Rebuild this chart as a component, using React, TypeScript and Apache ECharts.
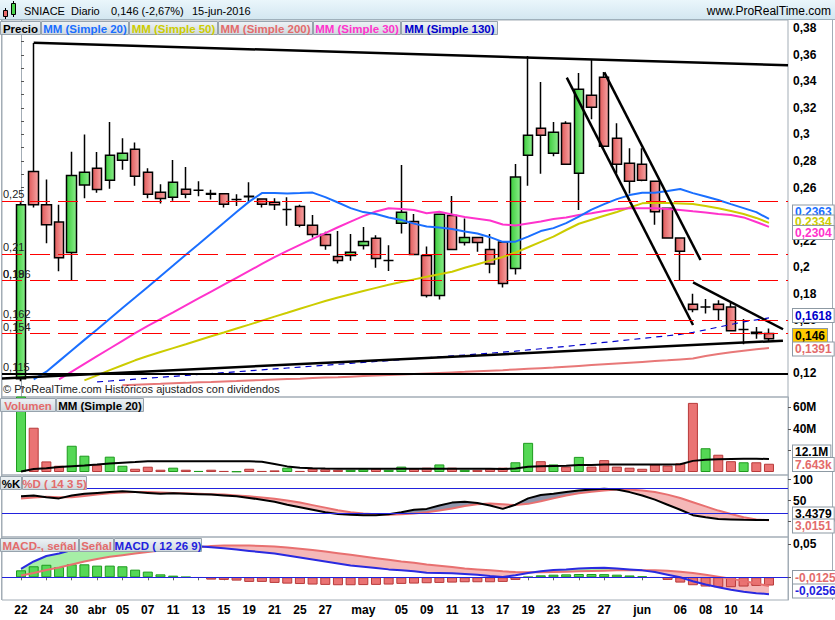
import React, { useEffect, useRef } from "react";
import * as echarts from "echarts";

const FONT = '"Liberation Sans", Arial, Helvetica, sans-serif';

const dates = [
  "2016-03-22","2016-03-23","2016-03-24","2016-03-29","2016-03-30","2016-03-31",
  "2016-04-01","2016-04-04","2016-04-05","2016-04-06","2016-04-07","2016-04-08","2016-04-11","2016-04-12","2016-04-13","2016-04-14","2016-04-15","2016-04-18","2016-04-19","2016-04-20","2016-04-21","2016-04-22","2016-04-25","2016-04-26","2016-04-27","2016-04-28","2016-04-29",
  "2016-05-02","2016-05-03","2016-05-04","2016-05-05","2016-05-06","2016-05-09","2016-05-10","2016-05-11","2016-05-12","2016-05-13","2016-05-16","2016-05-17","2016-05-18","2016-05-19","2016-05-20","2016-05-23","2016-05-24","2016-05-25","2016-05-26","2016-05-27","2016-05-30","2016-05-31",
  "2016-06-01","2016-06-02","2016-06-03","2016-06-06","2016-06-07","2016-06-08","2016-06-09","2016-06-10","2016-06-13","2016-06-14","2016-06-15",
];

const shownDates = [
  "2016-03-22","2016-03-24","2016-03-30","2016-04-01","2016-04-05","2016-04-07","2016-04-11","2016-04-13","2016-04-15","2016-04-19","2016-04-21","2016-04-25","2016-04-27",
  "2016-05-02","2016-05-05","2016-05-09","2016-05-11","2016-05-13","2016-05-17","2016-05-19","2016-05-23","2016-05-25","2016-05-27",
  "2016-06-01","2016-06-06","2016-06-08","2016-06-10","2016-06-14",
];
const monthNames: Record<string, string> = { "03": "mar", "04": "abr", "05": "may", "06": "jun" };

const opens = [0.116,0.272,0.247,0.234,0.211,0.262,0.2745,0.2654,0.2805,0.2888,0.2715,0.2564,0.2526,0.2587,0.2579,0.2556,0.2553,0.251,0.2535,0.2513,0.249,0.2435,0.2458,0.2315,0.2247,0.2081,0.2088,0.2164,0.2217,0.2051,0.233,0.2345,0.2088,0.1786,0.239,0.2186,0.2224,0.2134,0.2189,0.199,0.2843,0.3047,0.2858,0.3085,0.2707,0.3296,0.3432,0.2971,0.2783,0.2775,0.2647,0.2443,0.222,0.172,0.170,0.172,0.170,0.153,0.151,0.150];
const closes = [0.247,0.247,0.232,0.207,0.269,0.2715,0.2586,0.2843,0.2858,0.2685,0.2549,0.2518,0.2639,0.2549,0.2579,0.2550,0.2475,0.251,0.2530,0.2475,0.247,0.2435,0.2315,0.2247,0.2164,0.2051,0.2113,0.2194,0.2066,0.2051,0.2413,0.2096,0.1786,0.2398,0.2134,0.2224,0.2186,0.2023,0.1877,0.2679,0.2994,0.2994,0.3017,0.2775,0.3341,0.3205,0.2911,0.2775,0.2647,0.2654,0.2418,0.2219,0.212,0.168,0.170,0.168,0.152,0.153,0.150,0.146];
const lows = [0.114,0.245,0.218,0.197,0.190,0.252,0.256,0.259,0.2734,0.2613,0.252,0.248,0.25,0.252,0.2534,0.251,0.245,0.246,0.249,0.245,0.243,0.2312,0.230,0.2224,0.2131,0.2028,0.2048,0.2134,0.1995,0.1972,0.2254,0.2096,0.1771,0.1756,0.2134,0.2164,0.2116,0.1955,0.1847,0.1945,0.2614,0.2704,0.2835,0.2775,0.243,0.3115,0.2911,0.2707,0.2556,0.2647,0.232,0.2219,0.19,0.166,0.165,0.160,0.152,0.142,0.146,0.1436];
const highs = [0.249,0.369,0.266,0.247,0.287,0.300,0.2868,0.3094,0.2971,0.294,0.2745,0.2624,0.2808,0.2755,0.2647,0.2583,0.2553,0.255,0.2639,0.2513,0.252,0.2526,0.247,0.2393,0.2267,0.2272,0.2249,0.2302,0.224,0.2166,0.277,0.24,0.2156,0.2398,0.2536,0.2367,0.2224,0.2249,0.219,0.2777,0.3592,0.3396,0.3094,0.31,0.3464,0.3562,0.347,0.3085,0.2896,0.2896,0.2647,0.2443,0.222,0.18,0.176,0.175,0.173,0.161,0.155,0.1537];

const ma20 = [null,0.1154,0.1212,0.1292,0.1372,0.1452,0.1531,0.1612,0.1692,0.1771,0.1851,0.1932,0.2012,0.2093,0.2173,0.2254,0.2334,0.2415,0.2494,0.2558,0.2558,0.2556,0.2558,0.2562,0.2528,0.2487,0.2445,0.2415,0.24,0.2374,0.2355,0.2328,0.2306,0.2298,0.2287,0.2268,0.2253,0.2226,0.2191,0.2192,0.223,0.2272,0.2294,0.2332,0.2381,0.2434,0.2475,0.2513,0.2543,0.2561,0.2561,0.2574,0.2589,0.2558,0.2532,0.2506,0.2475,0.2445,0.2415,0.2363];
const ma50 = [null,null,null,null,null,0.1147,0.1185,0.1224,0.1261,0.1298,0.133,0.1361,0.139,0.1419,0.1449,0.1479,0.1508,0.1538,0.1567,0.1597,0.1627,0.1656,0.1686,0.1716,0.1745,0.1772,0.1796,0.182,0.1844,0.1867,0.1888,0.1908,0.1928,0.1947,0.1966,0.1995,0.2022,0.2049,0.2077,0.211,0.215,0.219,0.223,0.228,0.2327,0.2357,0.2387,0.2416,0.245,0.2481,0.2485,0.2483,0.248,0.2476,0.2461,0.2444,0.2423,0.2401,0.2371,0.2334];
const ma200 = [null,null,null,null,null,null,null,null,0.1110,0.1114,0.1118,0.1121,0.1125,0.1128,0.1132,0.1135,0.1139,0.1142,0.1146,0.1149,0.1153,0.1157,0.1160,0.1164,0.1168,0.1171,0.1175,0.1179,0.1183,0.1187,0.1191,0.1195,0.1199,0.1203,0.1207,0.1211,0.1216,0.1220,0.1224,0.1229,0.1234,0.1239,0.1244,0.1250,0.1256,0.1262,0.1268,0.1274,0.1280,0.1286,0.1292,0.1298,0.1305,0.1312,0.1330,0.1345,0.1358,0.1370,0.1381,0.1391];
const ma30 = [null,null,null,0.1155,0.1213,0.1271,0.1329,0.1387,0.1445,0.1503,0.1557,0.1609,0.166,0.1712,0.1764,0.1816,0.1868,0.192,0.1972,0.2024,0.2075,0.2123,0.2168,0.2213,0.2257,0.2301,0.2343,0.2385,0.2419,0.2444,0.2438,0.2431,0.2406,0.2418,0.2397,0.2378,0.2365,0.2352,0.2322,0.2314,0.2329,0.2344,0.2363,0.2374,0.2393,0.2406,0.2423,0.2438,0.2444,0.2444,0.2444,0.2438,0.2431,0.2421,0.2412,0.24,0.2393,0.2375,0.234,0.2304];
const ma130 = [null,null,null,null,null,null,0.1135,0.1142,0.1149,0.1156,0.1163,0.117,0.1177,0.1184,0.1191,0.1198,0.1205,0.1212,0.1219,0.1226,0.1233,0.124,0.1247,0.1254,0.1261,0.1268,0.1275,0.1282,0.1289,0.1296,0.1303,0.131,0.1317,0.1324,0.1331,0.1338,0.1345,0.1352,0.1359,0.1367,0.1376,0.1385,0.1394,0.1403,0.1413,0.1423,0.1433,0.1443,0.1453,0.1463,0.1473,0.1483,0.1494,0.1508,0.1528,0.1548,0.1568,0.1588,0.1603,0.1618];

const levels = [0.25, 0.21, 0.19, 0.186, 0.162, 0.154];
const baseLevel = 0.115;
const priceTicks = [0.12,0.14,0.16,0.18,0.2,0.22,0.24,0.26,0.28,0.3,0.32,0.34,0.36,0.38];
const priceMinorTicks = [0.11,0.13,0.15,0.17,0.19,0.21,0.23,0.25,0.27,0.29,0.31,0.33,0.35,0.37];

// trendlines: [index, price] pairs
const trendLines = [
  [[1, 0.3691], [60.5, 0.3521]],
  [[-1.5, 0.1161], [60.1, 0.1446]],
  [[43.05, 0.3428], [53.01, 0.1564]],
  [[46.01, 0.3468], [53.6, 0.2054]],
  [[53.01, 0.1885], [60.11, 0.1532]],
];

const volumes = [90e6,41e6,9.8e6,5.8e6,24.3e6,15.1e6,6.4e6,14.2e6,5.8e6,3e6,4.9e6,2.1e6,4e6,2.1e6,1e6,2.1e6,1e6,0.6e6,3e6,1e6,1.5e6,4e6,1e6,3e6,2.5e6,2e6,2e6,2.5e6,3e6,2e6,5e6,3e6,4e6,7e6,4e6,2e6,2e6,3e6,4e6,9e6,27e6,10e6,7e6,5e6,14e6,5e6,11e6,5e6,4e6,3e6,7e6,6e6,8e6,64e6,22e6,16e6,10e6,9e6,9e6,7.643e6];
const volMA20 = [0.4e6,2.7e6,3.5e6,4.6e6,5.4e6,6.1e6,6.9e6,7.8e6,8.6e6,9.2e6,10e6,10e6,10e6,10e6,10e6,10e6,10e6,10e6,10e6,9.4e6,7.5e6,5.2e6,4e6,3.5e6,3.2e6,3e6,3e6,3e6,3e6,3e6,3e6,3e6,3e6,3e6,3e6,3e6,2.9e6,2.9e6,2.8e6,3.3e6,4.8e6,5.3e6,5.6e6,5.8e6,6.4e6,6.5e6,7e6,7e6,7e6,6.9e6,7e6,6.9e6,7.2e6,10.3e6,11.3e6,11.9e6,12.1e6,12.3e6,12.2e6,12.1e6];

const stochK = [60,62,58,55,62,66,68,70,72,70,68,66,67,66,65,64,62,60,56,52,47,40,34,28,22,18,16,15,15,17,22,28,30,38,45,47,44,38,30,40,55,63,66,70,74,76,78,76,70,62,52,40,28,15,10,6,5,4,3.8,3.4379];
const stochD = [55,57,59,58,58,61,64,67,69,70,70,69,68,67,66,65,64,62,60,57,54,50,45,39,33,27,22,19,17,16,17,19,22,26,31,37,41,43,41,39,42,48,55,62,67,71,74,76,76,74,70,64,56,46,36,26,18,10,5,3.0151];

const macdLine = [0.0126,0.024,0.0323,0.036,0.0414,0.0444,0.0474,0.048,0.049,0.0495,0.0495,0.049,0.0485,0.048,0.047,0.0455,0.044,0.042,0.04,0.038,0.036,0.033,0.03,0.027,0.024,0.021,0.018,0.016,0.014,0.012,0.0105,0.009,0.007,0.0065,0.006,0.005,0.004,0.002,0.0005,0.003,0.0065,0.009,0.011,0.012,0.0135,0.014,0.0145,0.0135,0.012,0.0105,0.008,0.004,0,-0.006,-0.011,-0.015,-0.019,-0.022,-0.024,-0.0256];
const macdSignal = [0.0027,0.0065,0.011,0.0148,0.0194,0.024,0.0277,0.031,0.0335,0.036,0.0385,0.0405,0.0425,0.044,0.0455,0.0475,0.048,0.0482,0.048,0.0475,0.0465,0.045,0.0432,0.0412,0.039,0.0365,0.034,0.0315,0.029,0.0265,0.024,0.022,0.0195,0.0175,0.0155,0.0135,0.012,0.0105,0.009,0.008,0.0075,0.0075,0.008,0.0085,0.009,0.0095,0.01,0.0105,0.0107,0.0107,0.0105,0.0098,0.0085,0.0065,0.004,0.001,-0.002,-0.0055,-0.0095,-0.0131];
const macdHist = [0.0106,0.0167,0.019,0.0156,0.0197,0.0197,0.0177,0.0177,0.0167,0.0116,0.0086,0.0045,0.0025,0.0005,-0.0006,-0.0035,-0.004,-0.005,-0.007,-0.007,-0.0085,-0.0096,-0.0102,-0.011,-0.0115,-0.012,-0.012,-0.0118,-0.0115,-0.011,-0.01,-0.0095,-0.009,-0.0085,-0.008,-0.0075,-0.0075,-0.0075,-0.007,-0.004,0.0005,0.003,0.004,0.0045,0.005,0.005,0.0048,0.004,0.0028,0.0015,-0.0005,-0.004,-0.008,-0.012,-0.014,-0.015,-0.015,-0.014,-0.013,-0.0125];

const C = {
  blue: "#1a6fff",
  yellow: "#cccc00",
  salmon: "#e36b6b",
  magenta: "#ff33cc",
  navy: "#0000cc",
  frame: "#a3adb6",
  red: "#ff0000",
};

const comma = (v: number) => String(v).replace(".", ",");

function pad<T>(arr: T[], empty: any = null): any[] {
  return [empty, ...arr, empty];
}

function buildOption() {
  const cats = pad(dates, "");
  const grids = [
    { left: 2, top: 20, width: 786, height: 377 },
    { left: 2, top: 397, width: 786, height: 78 },
    { left: 2, top: 475, width: 786, height: 62 },
    { left: 2, top: 537, width: 786, height: 63 },
  ].map((g) => ({ ...g, show: true, borderColor: C.frame, borderWidth: 1, backgroundColor: "transparent" }));

  const labelFont = { fontFamily: FONT, fontSize: 12, fontWeight: "bold" as const, color: "#000" };

  const xAxes: any[] = [0, 1, 2, 3].map((gi) => ({
    type: "category",
    gridIndex: gi,
    data: cats,
    boundaryGap: true,
    show: gi === 3,
    axisLine: { show: false },
    axisTick: {
      show: gi === 3,
      length: 3,
      alignWithLabel: true,
      interval: (_i: number, v: string) => shownDates.includes(v),
      lineStyle: { color: "#666" },
    },
    axisLabel: {
      show: gi === 3,
      margin: 4,
      ...labelFont,
      interval: (_i: number, v: string) => shownDates.includes(v),
      formatter: (v: string) => {
        const idx = dates.indexOf(v);
        if (idx < 0) return "";
        const m = v.slice(5, 7);
        if (idx > 0 && dates[idx - 1].slice(5, 7) !== m) return monthNames[m];
        return v.slice(8, 10);
      },
    },
    splitLine: { show: false },
  }));
  xAxes.push({ type: "value", gridIndex: 0, min: -1.5, max: 60.5, show: false });

  const yBase = (gi: number, min: number, max: number, ticks: number[], fmt: (v: number) => string, minor: number[] = []) => ({
    type: "value",
    gridIndex: gi,
    position: "right",
    min,
    max,
    axisLine: { show: true, lineStyle: { color: C.frame } },
    axisTick: { show: true, length: 3, customValues: [...ticks, ...minor], lineStyle: { color: "#555" } },
    axisLabel: { show: true, margin: 5, customValues: ticks, formatter: fmt, ...labelFont },
    splitLine: { show: false },
  });

  const yAxes = [
    yBase(0, 0.38 - (397 - 28.3) / 1327, 0.38 + (28.3 - 20) / 1327, priceTicks, comma, priceMinorTicks),
    yBase(1, ((472 - 475) / 21.6) * 20e6, ((472 - 397) / 21.6) * 20e6, [20e6, 40e6, 60e6], (v) => v / 1e6 + "M"),
    yBase(2, -(537 - 521.5) / 0.42, 100 + (479.5 - 475) / 0.42, [0, 50, 100], (v) => String(v)),
    yBase(3, (577.3 - 600) / 660, (577.3 - 537) / 660, [0, 0.05], comma),
  ];

  const greenGrad = new echarts.graphic.LinearGradient(0, 0, 1, 0, [
    { offset: 0, color: "#3ccc3c" },
    { offset: 1, color: "#8cee8c" },
  ]);
  const redGrad = new echarts.graphic.LinearGradient(0, 0, 1, 0, [
    { offset: 0, color: "#e05a5a" },
    { offset: 1, color: "#f7a5a5" },
  ]);

  const candleData = pad(
    dates.map((_, i) => [opens[i], closes[i], lows[i], highs[i]]),
    "-"
  );

  const levelLines: any[] = levels.map((v) => ({
    yAxis: v,
    lineStyle: { color: C.red, width: 1.2, type: [20, 8] },
    label: {
      show: true,
      position: "insideStartTop",
      distance: [1, 1],
      formatter: () => comma(v),
      fontFamily: FONT,
      fontSize: 11,
      color: "#222",
    },
  }));
  levelLines.push({
    yAxis: baseLevel,
    lineStyle: { color: "#000", width: 2.2, type: "solid" },
    label: {
      show: true,
      position: "insideStartTop",
      distance: [1, 1],
      formatter: () => comma(baseLevel),
      fontFamily: FONT,
      fontSize: 11,
      color: "#222",
    },
  });

  const maLine = (name: string, data: (number | null)[], color: string, extra: any = {}) => ({
    name,
    type: "line",
    xAxisIndex: 0,
    yAxisIndex: 0,
    data: pad(data),
    symbol: "none",
    connectNulls: false,
    lineStyle: { color, width: 2, ...extra },
    z: 3,
  });

  const fillBetween = (gi: number, a: number[], b: number[], upColor: string, downColor: string, key: string) => {
    const lo = a.map((v, i) => Math.min(v, b[i]));
    const up = a.map((v, i) => Math.max(v - b[i], 0));
    const dn = a.map((v, i) => Math.max(b[i] - v, 0));
    const common = { type: "line", xAxisIndex: gi, yAxisIndex: gi, symbol: "none", stackStrategy: "all", silent: true, z: 1 };
    return [
      { ...common, stack: key + "u", data: pad(lo), lineStyle: { width: 0, opacity: 0 } },
      { ...common, stack: key + "u", data: pad(up), lineStyle: { width: 0, opacity: 0 }, areaStyle: { color: upColor, opacity: 1 } },
      { ...common, stack: key + "d", data: pad(lo), lineStyle: { width: 0, opacity: 0 } },
      { ...common, stack: key + "d", data: pad(dn), lineStyle: { width: 0, opacity: 0 }, areaStyle: { color: downColor, opacity: 1 } },
    ];
  };

  const volData = pad(
    volumes.map((v, i) => {
      const up = closes[i] >= opens[i];
      return {
        value: v,
        itemStyle: {
          color: up ? "#55d855" : "#ea7373",
          borderColor: up ? "#1e9a1e" : "#b83a3a",
          borderWidth: 1,
        },
      };
    })
  );

  const histData = pad(
    macdHist.map((v) => ({
      value: v,
      itemStyle: {
        color: v >= 0 ? "#55d855" : "#ea7373",
        borderColor: v >= 0 ? "#1e9a1e" : "#b83a3a",
        borderWidth: 1,
      },
    }))
  );

  const series: any[] = [
    {
      type: "candlestick",
      xAxisIndex: 0,
      yAxisIndex: 0,
      data: candleData,
      barWidth: 10,
      itemStyle: {
        color: greenGrad,
        color0: redGrad,
        borderColor: "#000",
        borderColor0: "#000",
        borderWidth: 1.5,
      },
      markLine: { symbol: "none", silent: true, animation: false, data: levelLines },
      z: 2,
    },
    maLine("MM200", ma200, "#e87878"),
    maLine("MM130", ma130, C.navy, { type: [6, 5], width: 1.2 }),
    maLine("MM50", ma50, C.yellow),
    maLine("MM30", ma30, C.magenta),
    maLine("MM20", ma20, C.blue),
    ...trendLines.map((seg) => ({
      type: "line",
      xAxisIndex: 4,
      yAxisIndex: 0,
      data: seg,
      symbol: "none",
      lineStyle: { color: "#000", width: 2.5 },
      z: 4,
    })),
    {
      type: "bar",
      xAxisIndex: 1,
      yAxisIndex: 1,
      data: volData,
      barWidth: 10,
      z: 2,
    },
    {
      type: "line",
      xAxisIndex: 1,
      yAxisIndex: 1,
      data: pad(volMA20),
      symbol: "none",
      lineStyle: { color: "#000", width: 2 },
      z: 3,
    },
    ...fillBetween(2, stochK, stochD, "#8e95ab", "#f5b8b8", "st"),
    {
      type: "line",
      xAxisIndex: 2,
      yAxisIndex: 2,
      data: pad(stochD),
      symbol: "none",
      lineStyle: { color: "#e87070", width: 2 },
      markLine: {
        symbol: "none",
        silent: true,
        label: { show: false },
        lineStyle: { color: "#2222dd", width: 1, type: "solid" },
        data: [{ yAxis: 80 }, { yAxis: 20 }],
      },
      z: 3,
    },
    {
      type: "line",
      xAxisIndex: 2,
      yAxisIndex: 2,
      data: pad(stochK),
      symbol: "none",
      lineStyle: { color: "#000", width: 2 },
      z: 3,
    },
    {
      type: "bar",
      xAxisIndex: 3,
      yAxisIndex: 3,
      data: histData,
      barWidth: 10,
      z: 2,
      markLine: {
        symbol: "none",
        silent: true,
        label: { show: false },
        lineStyle: { color: "#2222dd", width: 1, type: "solid" },
        data: [{ yAxis: 0 }],
      },
    },
    ...fillBetween(3, macdLine, macdSignal, "#a6eea6", "#f5b8b8", "mc"),
    {
      type: "line",
      xAxisIndex: 3,
      yAxisIndex: 3,
      data: pad(macdSignal),
      symbol: "none",
      lineStyle: { color: "#e87070", width: 2 },
      z: 3,
    },
    {
      type: "line",
      xAxisIndex: 3,
      yAxisIndex: 3,
      data: pad(macdLine),
      symbol: "none",
      lineStyle: { color: "#2a2ae0", width: 2 },
      z: 3,
    },
  ];

  const boxGrad = () =>
    new echarts.graphic.LinearGradient(0, 0, 0, 1, [
      { offset: 0, color: "#eef3f6" },
      { offset: 1, color: "#cfd8de" },
    ]);
  const legendBoxes = (y: number, items: { t: string; c: string; x: number; w: number }[]) =>
    items.flatMap((it) => [
      {
        type: "rect",
        shape: { x: it.x + 0.5, y: y + 0.5, width: it.w, height: 13 },
        style: { fill: boxGrad(), stroke: "#97a3ad", lineWidth: 1 },
        z: 100,
      },
      {
        type: "text",
        x: it.x + it.w / 2 + 0.5,
        y: y + 7.5,
        style: { text: it.t, fill: it.c, font: `bold 11.5px ${FONT}`, align: "center", verticalAlign: "middle" },
        z: 101,
      },
    ]);

  const tag = (y: number, text: string, color: string, bg = "#fff") => ({
    type: "text",
    x: 793,
    y,
    style: {
      text,
      fill: color,
      font: `bold 12px ${FONT}`,
      verticalAlign: "middle",
      backgroundColor: bg,
      borderColor: "#8d99a3",
      borderWidth: 1,
      padding: [1, 2, 0, 2],
    },
    z: 110,
  });

  const last = (a: number[]) => a[a.length - 1];
  const pct = ((last(closes) / closes[closes.length - 2] - 1) * 100).toFixed(2);

  const headerText = (x: number, text: string) => ({
    type: "text",
    x,
    y: 11,
    style: { text, fill: "#000", font: `11px ${FONT}`, verticalAlign: "middle" },
    z: 95,
  });

  const graphic: any[] = [
    {
      type: "rect",
      shape: { x: 0, y: 0, width: 835, height: 20 },
      style: {
        fill: new echarts.graphic.LinearGradient(0, 0, 0, 1, [
          { offset: 0, color: "#eaf6fb" },
          { offset: 1, color: "#d2e6f0" },
        ]),
        stroke: null,
      },
      z: 90,
    },
    { type: "line", shape: { x1: 0, y1: 19.5, x2: 835, y2: 19.5 }, style: { stroke: "#9fb0bb", lineWidth: 1 }, z: 91 },
    { type: "line", shape: { x1: 5.5, y1: 8, x2: 5.5, y2: 19 }, style: { stroke: "#000", lineWidth: 1 }, z: 92 },
    { type: "rect", shape: { x: 3.5, y: 10.5, width: 4, height: 6 }, style: { fill: "#e86a6a", stroke: "#000", lineWidth: 1 }, z: 93 },
    { type: "line", shape: { x1: 13.5, y1: 1, x2: 13.5, y2: 17 }, style: { stroke: "#000", lineWidth: 1 }, z: 92 },
    { type: "rect", shape: { x: 11.5, y: 3.5, width: 4, height: 11 }, style: { fill: "#4cd44c", stroke: "#000", lineWidth: 1 }, z: 93 },
    headerText(24, "SNIACE"),
    headerText(71, "Diario"),
    headerText(111, `${comma(last(closes))} (${pct.replace(".", ",")}%)`),
    headerText(192, "15-jun-2016"),
    { type: "text", x: 831, y: 11, style: { text: "www.ProRealTime.com", fill: "#000", font: `12px ${FONT}`, align: "right", verticalAlign: "middle" }, z: 95 },
    { type: "line", shape: { x1: 832.5, y1: 20, x2: 832.5, y2: 600 }, style: { stroke: C.frame, lineWidth: 1 }, z: 95 },
    { type: "line", shape: { x1: 1.5, y1: 20, x2: 1.5, y2: 600 }, style: { stroke: C.frame, lineWidth: 1 }, z: 95 },
    {
      type: "text",
      x: 3,
      y: 389,
      style: { text: "© ProRealTime.com Históricos ajustados con dividendos", fill: "#222", font: `11px ${FONT}`, verticalAlign: "middle" },
      z: 100,
    },
    ...legendBoxes(21, [
      { t: "Precio", c: "#000", x: 0, w: 40 },
      { t: "MM (Simple 20)", c: C.blue, x: 41, w: 87 },
      { t: "MM (Simple 50)", c: C.yellow, x: 129, w: 88 },
      { t: "MM (Simple 200)", c: C.salmon, x: 218, w: 94 },
      { t: "MM (Simple 30)", c: C.magenta, x: 313, w: 87 },
      { t: "MM (Simple 130)", c: C.navy, x: 401, w: 96 },
    ]),
    ...legendBoxes(398, [
      { t: "Volumen", c: C.salmon, x: 0, w: 55 },
      { t: "MM (Simple 20)", c: "#000", x: 56, w: 87 },
    ]),
    ...legendBoxes(476, [
      { t: "%K", c: "#000", x: 0, w: 21 },
      { t: "%D ( 14 3 5)", c: C.salmon, x: 22, w: 64 },
    ]),
    ...legendBoxes(538, [
      { t: "MACD-, señal", c: C.salmon, x: 0, w: 78 },
      { t: "Señal", c: C.salmon, x: 79, w: 34 },
      { t: "MACD ( 12 26 9)", c: "#2222dd", x: 114, w: 87 },
    ]),
    tag(212, comma(last(ma20)), C.blue),
    tag(222, comma(last(ma50)), C.yellow),
    tag(232.5, comma(last(ma30)), C.magenta),
    tag(315.5, comma(last(ma130)), C.navy),
    tag(335.5, comma(last(closes)), "#000", "#ffcc00"),
    tag(349, comma(last(ma200)), C.salmon),
    tag(452, (last(volMA20) / 1e6).toFixed(1) + "M", "#000"),
    tag(464.5, (last(volumes) / 1e6).toFixed(3) + "k", C.salmon),
    tag(514, String(last(stochK)), "#000"),
    tag(526, comma(last(stochD)), C.salmon),
    tag(577.5, comma(last(macdHist)), C.salmon),
    tag(591, comma(last(macdLine)), "#2222dd"),
  ];

  return {
    animation: false,
    backgroundColor: "#fff",
    textStyle: { fontFamily: FONT },
    grid: grids,
    xAxis: xAxes,
    yAxis: yAxes,
    series,
    graphic,
  };
}

export default function App() {
  const ref = useRef<HTMLDivElement>(null);
  useEffect(() => {
    if (!ref.current) return;
    const chart = echarts.init(ref.current, null, { renderer: "svg" });
    chart.setOption(buildOption() as any);
    return () => chart.dispose();
  }, []);
  return (
    <div
      ref={ref}
      style={{ position: "fixed", left: 0, top: 0, width: 835, height: 620, background: "#fff" }}
    />
  );
}
